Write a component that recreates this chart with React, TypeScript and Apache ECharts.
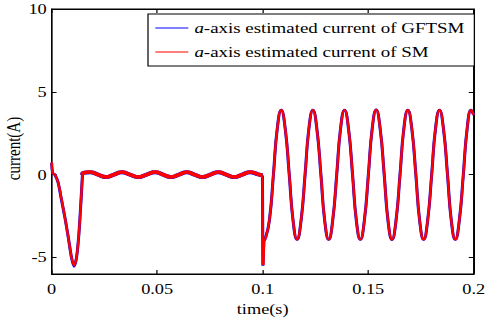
import React, { useEffect, useRef } from "react";
import * as echarts from "echarts";

// ---- data ----
const xTicks = [0, 0.05, 0.1, 0.15, 0.2];
const yTicks = [-5, 0, 5, 10];

const seriesNames = ["a-axis estimated current of GFTSM", "a-axis estimated current of SM"];

// start-up transient
const tStart = [0, 0.0005, 0.0015, 0.003, 0.0047, 0.0063, 0.0079, 0.0094, 0.0106, 0.0118, 0.0129, 0.0139, 0.0146];
const gftsmStart = [0.7, 0.1, 0.0, -0.45, -1.55, -2.6, -3.8, -5.0, -5.55, -5.0, -3.6, -1.6, 0.0];
const smStart = [0.75, 0.1, 0.0, -0.45, -1.5, -2.6, -3.8, -5.0, -5.5, -5.0, -3.6, -1.6, 0.0];

// no-load ripple
const tRipple = [0.0146, 0.015, 0.0182, 0.022, 0.0257, 0.0295, 0.0332, 0.0371, 0.0411, 0.045, 0.049, 0.0528, 0.0565, 0.0603, 0.064, 0.0677, 0.0715, 0.0752, 0.0789, 0.0827, 0.0865, 0.0903, 0.094, 0.0978, 0.0999];
const gftsmRipple = [0.0, 0.1, 0.15, 0.0, -0.15, 0.0, 0.15, 0.0, -0.15, 0.0, 0.15, 0.0, -0.15, 0.0, 0.15, 0.0, -0.15, 0.0, 0.15, 0.0, -0.15, 0.0, 0.15, 0.02, -0.05];
const smRipple = [0.0, 0.1, 0.16, 0.0, -0.14, 0.0, 0.16, 0.0, -0.14, 0.0, 0.16, 0.0, -0.14, 0.0, 0.16, 0.0, -0.14, 0.0, 0.16, 0.0, -0.14, 0.0, 0.16, 0.02, -0.05];

// load step spike at 0.1 s
const tStep = [0.0999, 0.1001, 0.1004, 0.1006, 0.1013];
const gftsmStep = [-0.05, -5.5, -5.5, -4.0, -3.85];
const smStep = [-0.05, -5.45, -5.4, -4.0, -3.85];

// loaded sinusoidal current
const tLoad = [
  0.1013, 0.1032, 0.1051, 0.1069, 0.1088, 0.1107, 0.1126, 0.1144,
  0.1163, 0.1182, 0.1201, 0.1219, 0.1238, 0.1257, 0.1276, 0.1294,
  0.1313, 0.1332, 0.1351, 0.1369, 0.1388, 0.1407, 0.1426, 0.1444,
  0.1463, 0.1482, 0.1501, 0.1519, 0.1538, 0.1557, 0.1576, 0.1594,
  0.1613, 0.1632, 0.1651, 0.1669, 0.1688, 0.1707, 0.1726, 0.1744,
  0.1763, 0.1782, 0.1801, 0.1819, 0.1838, 0.1857, 0.1876, 0.1894,
  0.1913, 0.1932, 0.1951, 0.1969, 0.1988, 0.2,
];
const gftsmLoad = [
  -3.85, -2.76, 0.0, 2.76, 3.9, 2.76, 0.0, -2.76,
  -3.92, -2.77, 0.0, 2.76, 3.9, 2.75, 0.0, -2.77,
  -3.92, -2.76, 0.0, 2.76, 3.9, 2.76, 0.0, -2.77,
  -3.92, -2.76, 0.0, 2.76, 3.91, 2.76, 0.0, -2.77,
  -3.93, -2.77, 0.0, 2.76, 3.9, 2.76, 0.0, -2.77,
  -3.92, -2.76, 0.0, 2.76, 3.9, 2.76, 0.0, -2.77,
  -3.92, -2.76, 0.0, 2.76, 3.9, 3.6,
];
const smLoad = gftsmLoad;

const FONT = "Liberation Serif";
const STRETCH = 486 / 398;

function pairs(t: number[], v: number[]) {
  return t.map((x, i) => [x, v[i]]);
}

export default function App() {
  const ref = useRef<HTMLDivElement>(null);
  useEffect(() => {
    if (!ref.current) return;
    const chart = echarts.init(ref.current, undefined, { renderer: "svg" });
    const axisLine = { show: true, onZero: false, lineStyle: { color: "#000", width: 1 } };
    const tick = { show: true, inside: true, length: 4, lineStyle: { color: "#000", width: 1 } };
    const mk = (
      name: string,
      color: string,
      t: number[],
      v: number[],
      width: number,
      smooth: boolean | number,
      z: number
    ) => ({
      type: "line",
      name,
      data: pairs(t, v),
      symbol: "none",
      showSymbol: false,
      smooth,
      lineStyle: { color, width },
      itemStyle: { color },
      z,
      silent: true,
    });
    const series: any[] = [];
    const curves = [
      { name: seriesNames[0], color: "#0000ff", start: gftsmStart, ripple: gftsmRipple, step: gftsmStep, load: gftsmLoad, w: 2.5, wr: 4.0, z: 2 },
      { name: seriesNames[1], color: "#ff0000", start: smStart, ripple: smRipple, step: smStep, load: smLoad, w: 2.0, wr: 3.6, z: 3 },
    ];
    curves.forEach((c) => {
      series.push(mk(c.name, c.color, tStart, c.start, c.w, 0.3, c.z));
      series.push(mk(c.name, c.color, tRipple, c.ripple, c.wr, true, c.z));
      series.push(mk(c.name, c.color, tStep, c.step, c.w, false, c.z));
      series.push(mk(c.name, c.color, tLoad, c.load, c.w, true, c.z));
    });

    chart.setOption({
      animation: false,
      backgroundColor: "#fff",
      grid: {
        left: 42.3,
        right: 10.1,
        top: 9,
        bottom: 48,
        containLabel: false,
        outerBoundsMode: "none",
        show: true,
        borderColor: "#000",
        borderWidth: 1,
      },
      legend: {
        data: seriesNames.map((n) => ({ name: n, icon: "rect" })),
        orient: "vertical",
        left: 121.2,
        top: 14,
        padding: [5, 8, 5, 6],
        itemGap: 6,
        itemWidth: 27,
        itemHeight: 1.2,
        backgroundColor: "#fff",
        borderColor: "#000",
        borderWidth: 1,
        borderRadius: 0,
        selectedMode: false,
        formatter: (n: string) => "{i|" + n.slice(0, 1) + "}{n|" + n.slice(1) + "}",
        textStyle: {
          fontFamily: FONT,
          fontSize: 15.5,
          color: "#000",
          lineHeight: 18,
          rich: {
            i: { fontFamily: FONT, fontSize: 15.5, fontStyle: "italic", color: "#000", lineHeight: 18 },
            n: { fontFamily: FONT, fontSize: 15.5, color: "#000", lineHeight: 18 },
          },
        },
      },
      xAxis: [
        {
          type: "value",
          min: 0,
          max: 0.2,
          interval: 0.05,
          name: "time(s)",
          nameLocation: "middle",
          nameGap: 28,
          nameTextStyle: { fontFamily: FONT, fontSize: 15, color: "#000" },
          axisLine,
          axisTick: tick,
          splitLine: { show: false },
          axisLabel: {
            margin: 8,
            fontFamily: FONT,
            fontSize: 15,
            color: "#000",
            customValues: xTicks,
            formatter: (v: number) => (v === 0 ? "0" : String(Number(v.toFixed(2)))),
          },
        },
        {
          type: "value",
          position: "top",
          min: 0,
          max: 0.2,
          interval: 0.05,
          axisLine,
          axisTick: tick,
          axisLabel: { show: false },
          splitLine: { show: false },
        },
      ],
      yAxis: [
        {
          type: "value",
          min: -6,
          max: 10,
          name: "current(A)",
          nameLocation: "middle",
          nameGap: 23,
          nameMoveOverlap: false,
          nameRotate: 90,
          nameTextStyle: { fontFamily: FONT, fontSize: 15, color: "#000", padding: [0, 14, 0, 0] },
          axisLine,
          axisTick: { ...tick, customValues: yTicks },
          splitLine: { show: false },
          axisLabel: {
            margin: 4,
            fontFamily: FONT,
            fontSize: 15,
            color: "#000",
            customValues: yTicks,
          },
        },
        {
          type: "value",
          position: "right",
          min: -6,
          max: 10,
          axisLine,
          axisTick: { ...tick, customValues: yTicks },
          axisLabel: { show: false, customValues: yTicks },
          splitLine: { show: false },
        },
      ],
      series,
    });
    return () => chart.dispose();
  }, []);
  return (
    <div
      ref={ref}
      style={{
        position: "absolute",
        left: 0,
        top: 0,
        width: 398,
        height: 322,
        transform: `scaleX(${STRETCH})`,
        transformOrigin: "0 0",
      }}
    />
  );
}
